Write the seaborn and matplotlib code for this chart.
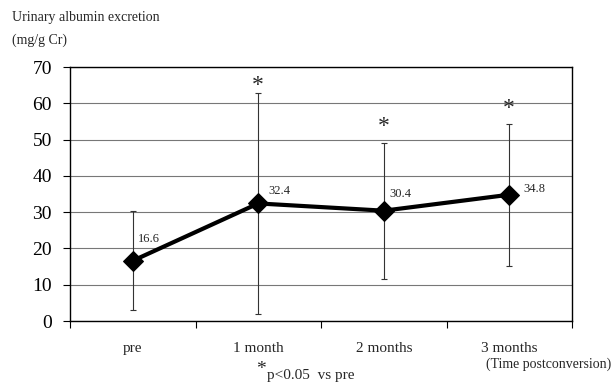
import matplotlib
matplotlib.use("Agg")
import matplotlib.pyplot as plt
import seaborn as sns
import pandas as pd

categories = ["pre", "1 month", "2 months", "3 months"]
means = [16.6, 32.4, 30.4, 34.8]
sds = [13.6, 30.5, 18.7, 19.6]
significant = [False, True, True, True]
y_ticks = [0, 10, 20, 30, 40, 50, 60, 70]

sns.set_theme(style="white")
plt.rcParams["font.family"] = ["Liberation Serif", "DejaVu Serif"]

df = pd.DataFrame({"pos": range(len(categories)), "mean": means})

fig = plt.figure(figsize=(6.14, 3.84), dpi=100)
ax = fig.add_axes([70 / 614, 1 - 321 / 384, 502 / 614, 254 / 384])

# error bars (mean ± SD)
ax.errorbar(df["pos"], df["mean"], yerr=sds, fmt="none", ecolor="#333333",
            elinewidth=0.8, capsize=2.5, capthick=0.8, zorder=2)

sns.lineplot(data=df, x="pos", y="mean", ax=ax, color="black", linewidth=3,
             marker="D", markersize=10, markeredgecolor="black", zorder=3)

# value labels, nudged clear of the line
label_offsets = [(4, 16), (7, 9), (4, 12), (10, 4)]
for i, (m, off) in enumerate(zip(means, label_offsets)):
    ax.annotate(f"{m}", (i, m), xytext=off, textcoords="offset points",
                fontsize=9, ha="left", va="center")

# significance marks above the error bars
star_gaps = [0, 2.0, 4.6, 4.2]
for i, (m, s, sig, g) in enumerate(zip(means, sds, significant, star_gaps)):
    if sig:
        ax.text(i, m + s + g, "*", fontsize=17, ha="center", va="center")

ax.set_xlim(-0.5, len(categories) - 0.5)
ax.set_ylim(0, 70)
ax.set_yticks(y_ticks)
ax.tick_params(axis="y", labelsize=14, length=5, width=0.8, direction="out",
               left=True, pad=8, colors="black")
ax.yaxis.grid(True, color="#777777", linewidth=0.8)
ax.set_xticks([i - 0.5 for i in range(len(categories) + 1)], minor=False)
ax.set_xticklabels([])
ax.set_xticks(range(len(categories)), minor=True)
ax.set_xticklabels(categories, minor=True, fontsize=11)
ax.tick_params(axis="x", which="major", length=5, width=0.8, direction="out",
               bottom=True, colors="black")
ax.tick_params(axis="x", which="minor", length=0, pad=15)
ax.set_xlabel("")
ax.set_ylabel("")
for sp in ax.spines.values():
    sp.set_color("black")
    sp.set_linewidth(1.0)

fig.text(12 / 614, 1 - 18 / 384, "Urinary albumin excretion", fontsize=10,
         ha="left", va="center")
fig.text(12 / 614, 1 - 40 / 384, "(mg/g Cr)", fontsize=10, ha="left",
         va="center")
fig.text(611 / 614, 1 - 364 / 384, "(Time postconversion)", fontsize=10,
         ha="right", va="center")
fig.text(261 / 614, 1 - 370 / 384, "*", fontsize=14, ha="center",
         va="center")
fig.text(267 / 614, 1 - 376 / 384, "p<0.05  vs pre", fontsize=11,
         ha="left", va="center")

fig.savefig("out.png", dpi=100)
